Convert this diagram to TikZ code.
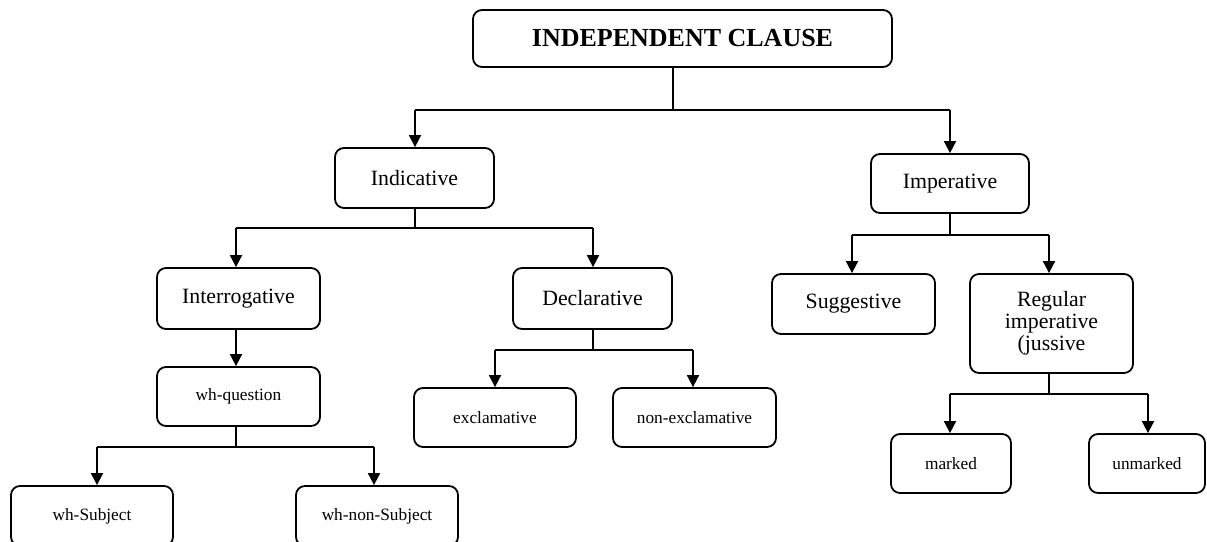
\documentclass[tikz,border=0pt]{standalone}
\usepackage{fontspec}
\setmainfont{Liberation Serif}
\usetikzlibrary{arrows.meta}

\begin{document}
\begin{tikzpicture}[x=1pt,y=-1pt,
  box/.style={draw, line width=1.8pt, rounded corners=9pt, align=center,
    inner sep=0pt, font=\fontsize{21.8}{22}\selectfont},
  smallbox/.style={box, font=\fontsize{17.3}{18}\selectfont},
  link/.style={line width=1.8pt},
  arr/.style={link, -{Triangle[width=12pt,length=12pt]}}]

\useasboundingbox (0,0) rectangle (1207,541);
\clip (0,0) rectangle (1207,541);

% clause boxes
\node[box, minimum width=419pt, minimum height=57pt,
      font=\fontsize{26}{28}\selectfont\bfseries] (ic) at (682.5,38.5) {INDEPENDENT CLAUSE};
\node[box, minimum width=159pt, minimum height=60pt] (ind) at (414.5,178) {Indicative};
\node[box, minimum width=158pt, minimum height=59pt] (imp) at (950,183.5) {Imperative};
\node[box, minimum width=163pt, minimum height=61pt] (int) at (238.5,298.5) {Interrogative};
\node[box, minimum width=159pt, minimum height=61pt] (dec) at (592.5,298.5) {Declarative};
\node[box, minimum width=163pt, minimum height=60pt] (sug) at (853.5,304) {Suggestive};
\node[box, minimum width=163pt, minimum height=99pt] (reg) at (1051.5,323.5) {Regular\\imperative\\(jussive};
\node[smallbox, minimum width=163pt, minimum height=59pt] (whq) at (238.5,396.5) {wh-question};
\node[smallbox, minimum width=162pt, minimum height=59pt] (exc) at (495,417.5) {exclamative};
\node[smallbox, minimum width=163pt, minimum height=59pt] (nexc) at (694.5,417.5) {non-exclamative};
\node[smallbox, minimum width=120pt, minimum height=59pt] (mk) at (951,463.5) {marked};
\node[smallbox, minimum width=116pt, minimum height=59pt] (umk) at (1147,463.5) {unmarked};
\node[smallbox, minimum width=162pt, minimum height=60pt] (whs) at (92,516) {wh-Subject};
\node[smallbox, minimum width=162pt, minimum height=60pt] (whns) at (377,516) {wh-non-Subject};

% heights of the branching bars
\coordinate (b1) at (0,110);
\coordinate (b2) at (0,228);
\coordinate (b3) at (0,235);
\coordinate (b4) at (0,447);
\coordinate (b5) at (0,350);
\coordinate (b6) at (0,394);

% independent clause
\draw[link] ([xshift=-9.5pt]ic.south) -- ([xshift=-9.5pt]ic.south |- b1);
\draw[link] ([xshift=0.5pt]ind.north |- b1) -- (imp.north |- b1);
\draw[arr] ([xshift=0.5pt]ind.north |- b1) -- ([xshift=0.5pt]ind.north);
\draw[arr] (imp.north |- b1) -- (imp.north);

% indicative
\draw[link] ([xshift=0.5pt]ind.south) -- ([xshift=0.5pt]ind.south |- b2);
\draw[link] ([xshift=-2.5pt]int.north |- b2) -- ([xshift=0.5pt]dec.north |- b2);
\draw[arr] ([xshift=-2.5pt]int.north |- b2) -- ([xshift=-2.5pt]int.north);
\draw[arr] ([xshift=0.5pt]dec.north |- b2) -- ([xshift=0.5pt]dec.north);

% imperative
\draw[link] (imp.south) -- (imp.south |- b3);
\draw[link] ([xshift=-1.5pt]sug.north |- b3) -- ([xshift=-2.5pt]reg.north |- b3);
\draw[arr] ([xshift=-1.5pt]sug.north |- b3) -- ([xshift=-1.5pt]sug.north);
\draw[arr] ([xshift=-2.5pt]reg.north |- b3) -- ([xshift=-2.5pt]reg.north);

% interrogative
\draw[arr] ([xshift=-2.5pt]int.south) -- ([xshift=-2.5pt]whq.north);

% wh-question
\draw[link] ([xshift=-2.5pt]whq.south) -- ([xshift=-2.5pt]whq.south |- b4);
\draw[link] ([xshift=5pt]whs.north |- b4) -- ([xshift=-3pt]whns.north |- b4);
\draw[arr] ([xshift=5pt]whs.north |- b4) -- ([xshift=5pt]whs.north);
\draw[arr] ([xshift=-3pt]whns.north |- b4) -- ([xshift=-3pt]whns.north);

% declarative
\draw[link] ([xshift=0.5pt]dec.south) -- ([xshift=0.5pt]dec.south |- b5);
\draw[link] (exc.north |- b5) -- ([xshift=-1.5pt]nexc.north |- b5);
\draw[arr] (exc.north |- b5) -- (exc.north);
\draw[arr] ([xshift=-1.5pt]nexc.north |- b5) -- ([xshift=-1.5pt]nexc.north);

% regular imperative
\draw[link] ([xshift=-2.5pt]reg.south) -- ([xshift=-2.5pt]reg.south |- b6);
\draw[link] ([xshift=-1pt]mk.north |- b6) -- ([xshift=1pt]umk.north |- b6);
\draw[arr] ([xshift=-1pt]mk.north |- b6) -- ([xshift=-1pt]mk.north);
\draw[arr] ([xshift=1pt]umk.north |- b6) -- ([xshift=1pt]umk.north);
\end{tikzpicture}
\end{document}
